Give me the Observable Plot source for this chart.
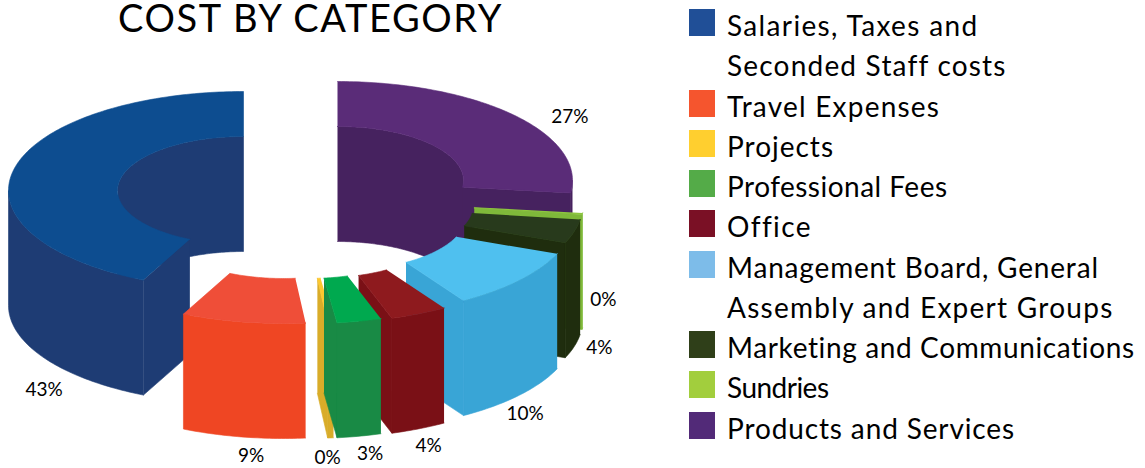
<!DOCTYPE html>
<html><head><meta charset="utf-8">
<script src="https://cdn.jsdelivr.net/npm/d3@7"></script>
<script src="https://cdn.jsdelivr.net/npm/@observablehq/plot@0.6"></script>
<style>
html,body{margin:0;padding:0;background:#fff;}
#page{position:relative;width:1145px;height:468px;overflow:hidden;font-family:Lato,sans-serif;color:#000;}
#chart{position:absolute;left:0;top:0;}
#title{position:absolute;left:118px;top:0;font-size:38px;line-height:34px;letter-spacing:1.6px;white-space:nowrap;}
.sw{position:absolute;left:689px;width:26px;height:27px;}
.lg{position:absolute;left:727px;font-size:28px;line-height:34px;white-space:nowrap;}
</style></head><body>
<div id="page"><div id="chart"></div><div id="title">COST BY CATEGORY</div></div>
<script>
// Data: clockwise from 12 o'clock
const categories = ["Products and Services","Sundries","Marketing and Communications","Management Board, General Assembly and Expert Groups","Office","Professional Fees","Projects","Travel Expenses","Salaries, Taxes and Seconded Staff costs"];
const shares = [27,0.25,3.9,10,3.9,3.05,0.4,8.5,43];
const labels = ["27%","0%","4%","10%","4%","3%","0%","9%","43%"];
const topColors = ["#5a2c78","#8dc63f","#283a1c","#4fc0ef","#8e1a1e","#00a94f","#fdc82f","#ef4e38","#0d4d90"];
const wallColors = ["#46225f","#7fb83a","#1f2d0e","#39a5d6","#7a1016","#198a45","#d9ac29","#ef4623","#1e3c74"];

// Legend, top to bottom
const legendNames = ["Salaries, Taxes and\nSeconded Staff costs","Travel Expenses","Projects","Professional Fees","Office","Management Board, General\nAssembly and Expert Groups","Marketing and Communications","Sundries","Products and Services"];
const legendColors = ["#204f97","#f5552e","#ffcf2f","#54ab48","#7a1025","#7dbce9","#2f3f19","#a2ce3d","#522a78"];
const legendLineWidths = {"Salaries, Taxes and":251,"Seconded Staff costs":278,"Travel Expenses":212,"Projects":106,"Professional Fees":220,"Office":82,"Management Board, General":371,"Assembly and Expert Groups":386,"Marketing and Communications":408,"Sundries":102,"Products and Services":287};

// Layout of the exploded 3D ring
const RX = 235, RY = 99, IRX = 126, IRY = 54, DEPTH = 115;
const centers = [[337,180],[349,200],[347,205],[339,216],[319.5,223.5],[308.5,224],[305,224],[283,224],[243,190]];
const labelNudge = [[56,2],[21,-29],[25,2],[6,19],[10,17],[11,18],[-3,20],[8,18.5],[30,221]];
const drawOrder = [0,8,1,2,3,4,7,6,5];

const rad = d => d * Math.PI / 180;
const total = d3.sum(shares);
let run = 0;
const slices = shares.map((v,i) => {
  const a0 = run / total * 360; run += v; const a1 = run / total * 360;
  return {i, a0, a1, cx: centers[i][0], cy: centers[i][1]};
});
const pt = (s,a,rx,ry,z=0) => ({x: s.cx + rx*Math.sin(rad(a)), y: s.cy - ry*Math.cos(rad(a)) + z});
const arc = (s,a0,a1,rx,ry,z=0) => {
  const n = Math.max(2, Math.ceil(Math.abs(a1-a0)));
  return d3.range(n+1).map(k => pt(s, a0 + (a1-a0)*k/n, rx, ry, z));
};
const wall = (s,a0,a1,rx,ry) => [...arc(s,a0,a1,rx,ry), ...arc(s,a1,a0,rx,ry,DEPTH)];
const cut = (s,a) => [pt(s,a,IRX,IRY), pt(s,a,RX,RY), pt(s,a,RX,RY,DEPTH), pt(s,a,IRX,IRY,DEPTH)];

const faces = [];
for (const idx of drawOrder) {
  const s = slices[idx], w = wallColors[idx];
  // inner wall visible on the far half of the ring
  const b0 = Math.min(s.a1, 90);
  if (s.a0 < 90) faces.push({pts: wall(s,s.a0,b0,IRX,IRY), c:w});
  const b1 = Math.max(s.a0, 270);
  if (s.a1 > 270) faces.push({pts: wall(s,b1,s.a1,IRX,IRY), c:w});
  // cut faces
  if (s.a1 < 180) faces.push({pts: cut(s,s.a1), c:w});
  if (s.a0 > 180) faces.push({pts: cut(s,s.a0), c:w});
  // outer wall on the near half
  const o0 = Math.max(s.a0,90), o1 = Math.min(s.a1,270);
  if (o1 > o0) faces.push({pts: wall(s,o0,o1,RX,RY), c:w});
  // top surface
  faces.push({pts: [...arc(s,s.a0,s.a1,RX,RY), ...arc(s,s.a1,s.a0,IRX,IRY)], c:topColors[idx]});
}

const labelData = slices.map(s => {
  const m = (s.a0+s.a1)/2, near = Math.cos(rad(m)) < 0;
  const p = pt(s,m,RX,RY,near?DEPTH:0);
  return {x:p.x+labelNudge[s.i][0], y:p.y+labelNudge[s.i][1], t:labels[s.i]};
});

const plot = Plot.plot({
  width:1145, height:468, margin:0,
  x:{domain:[0,1145],range:[0,1145],axis:null},
  y:{domain:[0,468],range:[0,468],axis:null},
  style:{background:"transparent"},
  marks:[
    ...faces.map(f => Plot.line(f.pts,{x:"x",y:"y",fill:f.c,stroke:f.c,strokeWidth:0.6})),
    Plot.text(labelData,{x:"x",y:"y",text:"t",fontSize:19,fontFamily:"Lato, sans-serif",fill:"#000"})
  ]
});
document.getElementById("chart").append(plot);

// Legend
const page = document.getElementById("page");
const LEG_PITCH = 40.25, LEG_TOP = 36;
const ctx = document.createElement("canvas").getContext("2d");
ctx.font = "28px Lato";
let row = 0;
legendNames.forEach((name,i) => {
  const sw = document.createElement("div");
  sw.className = "sw"; sw.style.background = legendColors[i];
  sw.style.top = (LEG_TOP + row*LEG_PITCH - 27) + "px";
  page.append(sw);
  name.split("\n").forEach(line => {
    const d = document.createElement("div");
    d.className = "lg"; d.textContent = line;
    d.style.top = (LEG_TOP + row*LEG_PITCH - 28) + "px";
    const extra = (legendLineWidths[line] - ctx.measureText(line).width) / Math.max(1,line.length-1);
    d.style.letterSpacing = extra.toFixed(2) + "px";
    page.append(d);
    row++;
  });
});
</script>
</body></html>
